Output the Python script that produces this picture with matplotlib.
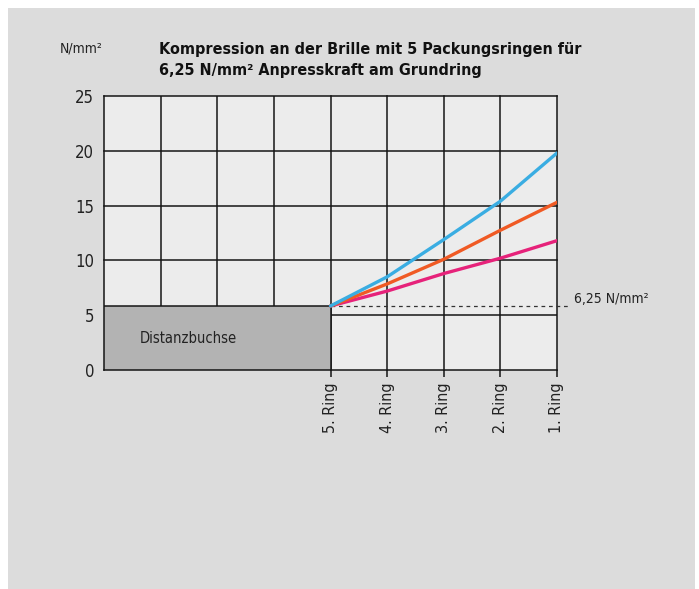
import matplotlib
matplotlib.use("Agg")
import matplotlib.pyplot as plt
from matplotlib.patches import Rectangle

plt.rcParams['font.family'] = ['DejaVu Sans']
plt.rcParams['font.stretch'] = 'condensed'

# Data
ring_labels = ["5. Ring", "4. Ring", "3. Ring", "2. Ring", "1. Ring"]
ring_pos = [4, 5, 6, 7, 8]
blue_vals = [5.84, 8.5, 11.9, 15.4, 19.8]
orange_vals = [5.84, 7.85, 10.1, 12.75, 15.3]
pink_vals = [5.84, 7.2, 8.8, 10.2, 11.8]
base_level = 5.84
yticks = [0, 5, 10, 15, 20, 25]

W, H = 699, 589
fig = plt.figure(figsize=(W / 100, H / 100), dpi=100)
fig.patch.set_facecolor("white")
bg = fig.add_axes([8 / W, 0, (695 - 8) / W, (589 - 8) / H], zorder=0)
bg.set_facecolor("#dcdcdc")
bg.set_xticks([]); bg.set_yticks([])
for s in bg.spines.values():
    s.set_visible(False)

L, R, T, B = 104, 557, 96, 370
ax = fig.add_axes([L / W, (H - B) / H, (R - L) / W, (B - T) / H], zorder=2)
ax.set_xlim(0, 8)
ax.set_ylim(0, 25)
ax.set_facecolor("#ececec")
for s in ax.spines.values():
    s.set_visible(False)

lc = "#151515"
lw = 1.1
for x in [1, 2, 3]:
    ax.plot([x, x], [base_level, 25], color=lc, lw=lw, zorder=2)
for x in [0] + ring_pos:
    ax.plot([x, x], [0, 25], color=lc, lw=lw, zorder=2, clip_on=False)
for y in [10, 15, 20, 25]:
    ax.plot([0, 8], [y, y], color=lc, lw=lw, zorder=2, clip_on=False)
ax.plot([4, 8], [5, 5], color=lc, lw=lw, zorder=2)
ax.plot([0, 8], [0, 0], color=lc, lw=lw, zorder=2, clip_on=False)

ax.add_patch(Rectangle((0, 0), 4, base_level, facecolor="#b3b3b3",
                       edgecolor=lc, lw=lw, zorder=3))
ax.text(0.63, 2.85, "Distanzbuchse", fontsize=10.5, ha="left", va="center",
        color="#222222", zorder=4)

ax.plot([4, 8.2], [base_level, base_level], color="#333333", lw=0.9,
        ls=(0, (3, 3)), clip_on=False, zorder=4)
ax.text(8.3, base_level, "6,25 N/mm²", fontsize=10, ha="left", va="bottom",
        color="#222222")

ax.plot(ring_pos, pink_vals, color="#e6227a", lw=2.4, zorder=5,
        solid_capstyle="round")
ax.plot(ring_pos, orange_vals, color="#f05a24", lw=2.4, zorder=6,
        solid_capstyle="round")
ax.plot(ring_pos, blue_vals, color="#3aade2", lw=2.4, zorder=7,
        solid_capstyle="round")

ax.set_yticks(yticks)
ax.set_yticklabels([str(v) for v in yticks], fontsize=12, color="#222222")
ax.tick_params(axis="y", length=0, pad=7)
ax.set_xticks(ring_pos)
ax.set_xticklabels(ring_labels, rotation=90, fontsize=11.5, color="#222222")
ax.tick_params(axis="x", length=5, width=1.1, color=lc, pad=4, direction="out")

fig.text(60 / W, 1 - 48 / H, "N/mm²", fontsize=10, ha="left", va="center",
         color="#222222")
fig.text(159 / W, 1 - 60 / H,
         "Kompression an der Brille mit 5 Packungsringen für\n6,25 N/mm² Anpresskraft am Grundring",
         fontsize=11.5, fontweight="bold", ha="left", va="center",
         color="#111111", linespacing=1.45)

fig.savefig("out.png", dpi=100)
